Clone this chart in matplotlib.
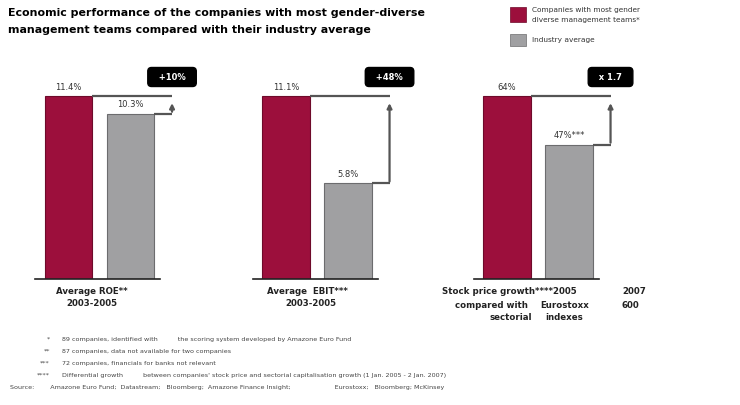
import matplotlib.pyplot as plt
from matplotlib.transforms import blended_transform_factory

# data
metrics = ["ROE", "EBIT", "Stock price growth"]
diverse = [11.4, 11.1, 64]
industry = [10.3, 5.8, 47]
diverse_labels = ["11.4%", "11.1%", "64%"]
industry_labels = ["10.3%", "5.8%", "47%***"]
badges = ["+10%", "+48%", "x 1.7"]

RED = "#9c0f3c"
RED_EDGE = "#6e0a2a"
GREY = "#a0a0a2"
GREY_EDGE = "#6c6c6e"
W, H = 740, 405

fig = plt.figure(figsize=(7.4, 4.05), dpi=100)

def px(x, y):
    # pixel from top-left -> figure fraction
    return x / W, 1 - y / H

# title
fig.text(*px(8, 13), "Economic performance of the companies with most gender-diverse",
         fontsize=7.9, fontweight="bold", va="center", ha="left")
fig.text(*px(8, 30), "management teams compared with their industry average",
         fontsize=7.9, fontweight="bold", va="center", ha="left")

# legend
fig.patches.append(plt.Rectangle(px(510, 22), 16 / W, 15 / H, transform=fig.transFigure,
                                 facecolor=RED, edgecolor=RED_EDGE, lw=0.5))
fig.patches.append(plt.Rectangle(px(510, 46), 16 / W, 12 / H, transform=fig.transFigure,
                                 facecolor=GREY, edgecolor=GREY_EDGE, lw=0.5))
fig.text(*px(532, 10), "Companies with most gender", fontsize=5.3, va="center", color="#333333")
fig.text(*px(532, 20), "diverse management teams*", fontsize=5.3, va="center", color="#333333")
fig.text(*px(532, 40), "Industry average", fontsize=5.3, va="center", color="#333333")

# three panels, each its own axes so the red bars reach the same height
centers = [68.5, 286, 507]
unit = 62
base_y, top_y = 279, 60
red_frac = (base_y - 96) / (base_y - top_y)
badge_frac = (base_y - 77) / (base_y - top_y)

for i in range(3):
    left = centers[i] - unit
    ax = fig.add_axes([left / W, 1 - base_y / H, 3 * unit / W, (base_y - top_y) / H])
    ymax = diverse[i] / red_frac
    ax.set_xlim(-1, 2)
    ax.set_ylim(0, ymax)
    ax.axis("off")

    ax.bar([0], [diverse[i]], width=0.76, color=RED, edgecolor=RED_EDGE, lw=0.8)
    ax.bar([1], [industry[i]], width=0.76, color=GREY, edgecolor=GREY_EDGE, lw=0.8)
    ax.plot([-0.54, 1.48], [0, 0], color="#222222", lw=1.2, clip_on=False)

    ax.annotate(diverse_labels[i], (0, diverse[i]), xytext=(0, 3), textcoords="offset points",
                ha="center", va="bottom", fontsize=6, color="#333333")
    ax.annotate(industry_labels[i], (1, industry[i]), xytext=(0, 3), textcoords="offset points",
                ha="center", va="bottom", fontsize=6, color="#333333")

    # connector bracket with arrow
    xc = 1.67
    ax.plot([0.38, xc], [diverse[i], diverse[i]], color="#555555", lw=1.6, solid_capstyle="butt")
    ax.plot([1.38, xc], [industry[i], industry[i]], color="#555555", lw=1.6, solid_capstyle="butt")
    ax.annotate("", xy=(xc, diverse[i] - ymax * 0.02), xytext=(xc, industry[i] - ymax * 0.004),
                arrowprops=dict(arrowstyle="-|>", color="#555555", lw=1.6, mutation_scale=7))

    trans = blended_transform_factory(ax.transData, ax.transAxes)
    ax.text(xc, badge_frac, "  " + badges[i] + "  ", transform=trans, ha="center", va="center",
            fontsize=6, fontweight="bold", color="white",
            bbox=dict(boxstyle="round,pad=0.6,rounding_size=0.45", facecolor="black",
                      edgecolor="black"))

# category labels
lab = dict(fontsize=6.2, fontweight="bold", va="center", color="#222222")
fig.text(*px(92, 292), "Average ROE**", ha="center", **lab)
fig.text(*px(92, 304), "2003-2005", ha="center", **lab)
fig.text(*px(307, 292), "Average  EBIT***", ha="center", **lab)
fig.text(*px(311, 304), "2003-2005", ha="center", **lab)
fig.text(*px(442, 292), "Stock price growth****2005", ha="left", **lab)
fig.text(*px(622, 292), "2007", ha="left", **lab)
fig.text(*px(455, 305), "compared with", ha="left", **lab)
fig.text(*px(540, 305), "Eurostoxx", ha="left", **lab)
fig.text(*px(622, 305), "600", ha="left", **lab)
fig.text(*px(490, 318), "sectorial", ha="left", **lab)
fig.text(*px(545, 318), "indexes", ha="left", **lab)

# footnotes
marks = ["*", "**", "***", "****"]
notes = [
    "89 companies, identified with          the scoring system developed by Amazone Euro Fund",
    "87 companies, data not available for two companies",
    "72 companies, financials for banks not relevant",
    "Differential growth          between companies' stock price and sectorial capitalisation growth (1 Jan. 2005 - 2 Jan. 2007)",
]
fn = dict(fontsize=4.6, va="center", color="#444444")
for k in range(4):
    fig.text(*px(50, 339 + 12 * k), marks[k], ha="right", **fn)
    fig.text(*px(62, 339 + 12 * k), notes[k], ha="left", **fn)
fig.text(*px(10, 387), "Source:        Amazone Euro Fund;  Datastream;   Bloomberg;  Amazone Finance Insight;"
         "                      Eurostoxx;   Bloomberg; McKinsey", ha="left", **fn)

fig.savefig("out.png", dpi=100)
